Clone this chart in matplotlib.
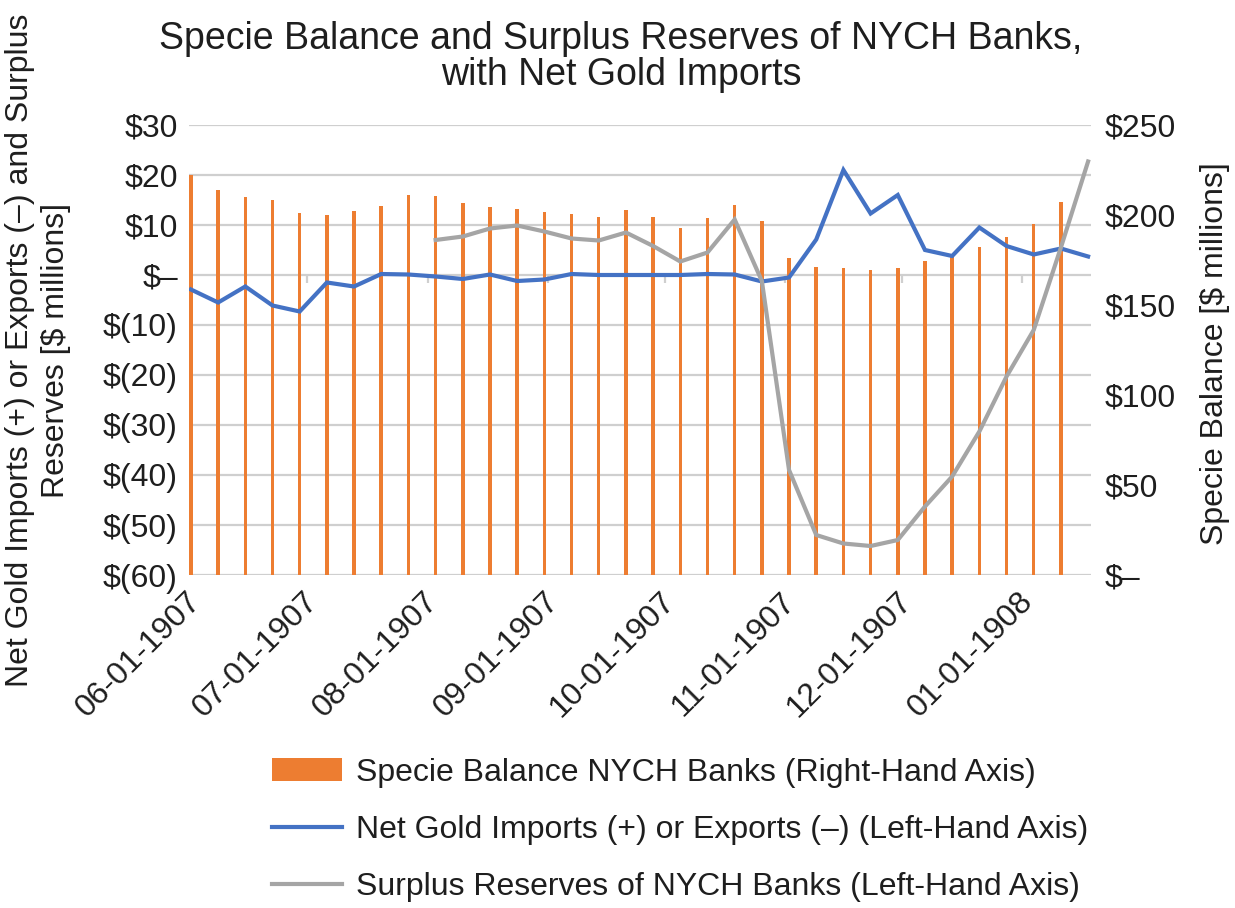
import numpy as np
import pandas as pd
import matplotlib
matplotlib.use("Agg")
import matplotlib.pyplot as plt
import matplotlib.transforms as mtransforms
from matplotlib.lines import Line2D
from matplotlib.patches import Patch

plt.rcParams['font.family'] = ['Liberation Sans', 'DejaVu Sans']

# ---- data ----
week_dates = pd.date_range("1907-06-01", periods=34, freq="7D")

specie_balance = [222, 214, 210, 208.5, 201, 200, 202, 205, 211, 210.5, 206.5,
                  204.5, 203.5, 201.5, 200.5, 199, 203, 199, 192.5, 198.5, 205.5,
                  196.5, 176, 171, 170.5, 169.5, 170.5, 174.5, 177, 182, 188, 195,
                  207, np.nan]

net_gold_imports = [-2.9, -5.5, -2.3, -6.1, -7.3, -1.5, -2.3, 0.2, 0.1, -0.3, -0.8,
                    0.1, -1.2, -0.9, 0.2, 0.0, 0.0, 0.0, 0.0, 0.2, 0.1, -1.3, -0.5,
                    7.1, 21.0, 12.3, 16.0, 5.0, 3.8, 9.5, 5.8, 4.1, 5.3, 3.7]

surplus_reserves = [np.nan] * 9 + [7.0, 7.7, 9.3, 9.9, 8.7, 7.3, 6.9, 8.5, 5.8, 2.7,
                                   4.5, 11.1, -1.2, -39.0, -52.0, -53.7, -54.2, -53.0,
                                   -46.3, -40.3, -31.3, -20.3, -11.0, 5.5, 22.7]

month_ticks = pd.to_datetime(["1907-06-01", "1907-07-01", "1907-08-01", "1907-09-01",
                              "1907-10-01", "1907-11-01", "1907-12-01", "1908-01-01"])
month_labels = ["06-01-1907", "07-01-1907", "08-01-1907", "09-01-1907",
                "10-01-1907", "11-01-1907", "12-01-1907", "01-01-1908"]

left_ticks = [30, 20, 10, 0, -10, -20, -30, -40, -50, -60]
left_labels = ["$30", "$20", "$10", "$\u2013", "$(10)", "$(20)", "$(30)", "$(40)",
               "$(50)", "$(60)"]
right_ticks = [250, 200, 150, 100, 50, 0]
right_labels = ["$250", "$200", "$150", "$100", "$50", "$\u2013"]

title = "Specie Balance and Surplus Reserves of NYCH Banks,\nwith Net Gold Imports"
left_ylabel = "Net Gold Imports (+) or Exports (\u2013) and Surplus\nReserves [$ millions]"
right_ylabel = "Specie Balance [$ millions]"
legend_labels = ["Specie Balance NYCH Banks (Right-Hand Axis)",
                 "Net Gold Imports (+) or Exports (\u2013) (Left-Hand Axis)",
                 "Surplus Reserves of NYCH Banks (Left-Hand Axis)"]

ORANGE = "#ED7D31"
BLUE = "#4472C4"
GRAY = "#A5A5A5"
GRID = "#CFCFCF"
TXT = "#1E1E1E"

W, H = 1235, 908
fig = plt.figure(figsize=(W / 100, H / 100), dpi=100)
rect = [189 / W, 1 - 575 / H, (1091 - 189) / W, (575 - 125) / H]

# background axes: grid + left labels
axg = fig.add_axes(rect)
axg.set_zorder(0)
# bars axes (right)
axb = axg.twinx()
axb.set_zorder(1)
axb.patch.set_visible(False)
# lines axes (left, on top)
axl = fig.add_axes(rect, sharex=axg, sharey=axg)
axl.set_zorder(2)
axl.patch.set_visible(False)

xmin = week_dates[0] - pd.Timedelta(hours=12)
xmax = week_dates[-1] + pd.Timedelta(hours=18)

# grid
axg.set_ylim(-60, 30)
axg.set_yticks(left_ticks)
axg.set_yticklabels(left_labels)
axg.yaxis.grid(True, color=GRID, linewidth=1.6)
axg.set_axisbelow(True)
axg.vlines(month_ticks, 0, -1.6, color=GRID, linewidth=1.6)

# bars
axb.bar(week_dates, specie_balance, width=0.9, color=ORANGE, zorder=2)
axb.set_ylim(0, 250)
axb.set_yticks(right_ticks)
axb.set_yticklabels(right_labels)

# lines
axl.plot(week_dates, net_gold_imports, color=BLUE, linewidth=3.0, solid_joinstyle='miter')
axl.plot(week_dates, surplus_reserves, color=GRAY, linewidth=3.0, solid_joinstyle='miter')

axg.set_xlim(xmin, xmax)
axg.set_xticks(month_ticks)
axg.set_xticklabels(month_labels)

for a in (axg, axb, axl):
    for s in a.spines.values():
        s.set_visible(False)

axl.tick_params(axis='both', which='both', length=0, labelleft=False, labelbottom=False)
axb.tick_params(axis='both', which='both', length=0, labelsize=23, labelcolor=TXT, pad=10)
axb.tick_params(axis='x', labelbottom=False)
axg.tick_params(axis='y', length=0, labelsize=23, labelcolor=TXT, pad=8)
axg.tick_params(axis='x', length=0, labelsize=23, labelcolor=TXT, pad=16)
offset = mtransforms.ScaledTranslation(6 / 100, 0, fig.dpi_scale_trans)
for lab in axg.get_xticklabels():
    lab.set_rotation(45)
    lab.set_ha('right')
    lab.set_va('center')
    lab.set_rotation_mode('anchor')
    lab.set_transform(lab.get_transform() + offset)

fig.text(621 / W, 1 - 57 / H, title, ha='center', va='center', fontsize=27,
         color=TXT, linespacing=1.0)
fig.text(38 / W, 1 - 350 / H, left_ylabel, rotation=90, ha='center', va='center',
         fontsize=23, color=TXT, linespacing=1.3, multialignment='center')
fig.text(1215 / W, 1 - 354 / H, right_ylabel, rotation=90, ha='center', va='center',
         fontsize=23, color=TXT)

handles = [Patch(facecolor=ORANGE, edgecolor='none'),
           Line2D([], [], color=BLUE, linewidth=3.0),
           Line2D([], [], color=GRAY, linewidth=3.0)]
fig.legend(handles, legend_labels, loc='center', bbox_to_anchor=(680 / W, 1 - 830 / H),
           frameon=False, fontsize=23, handlelength=2.2, handletextpad=0.45,
           labelspacing=0.85, labelcolor=TXT)

fig.savefig("out.png", dpi=100)
